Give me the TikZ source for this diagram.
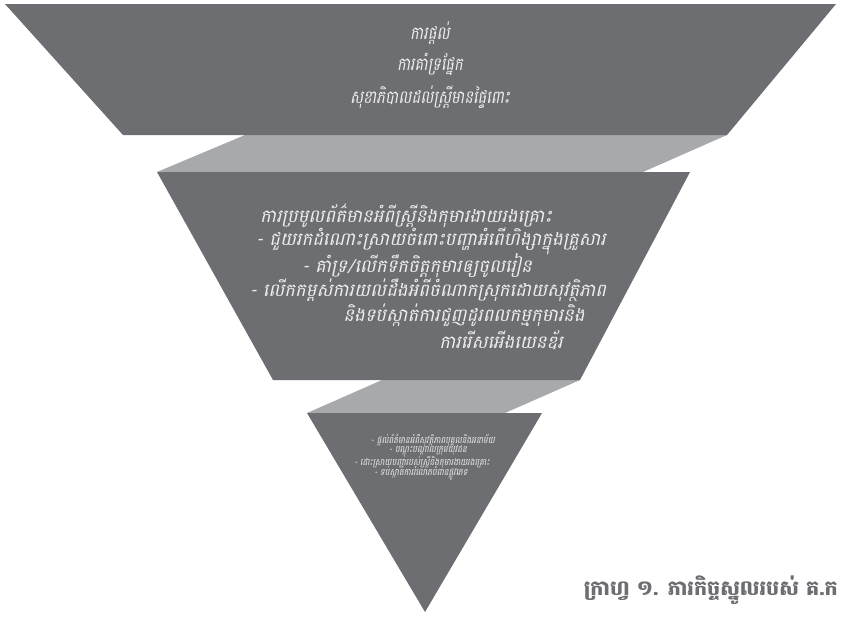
\documentclass[tikz,border=0pt]{standalone}
\usepackage{fontspec}
\newfontfamily\kh[Script=Khmer]{Battambang}
\newfontfamily\khi[Script=Khmer,FakeSlant=0.22]{Battambang}
\definecolor{darkgr}{HTML}{6D6E71}
\definecolor{lightgr}{HTML}{A7A9AC}
\definecolor{txt}{HTML}{EEEEEE}
\tikzset{
  x=0.75pt, y=-0.75pt,
  band/.style={fill=lightgr, draw=none},
  block/.style={fill=darkgr, draw=none},
  toptext/.style={text=txt, inner sep=0pt, font=\khi\fontsize{13.5}{15}\selectfont, xscale=0.82},
  midtext/.style={text=txt, inner sep=0pt, font=\khi\fontsize{13.5}{15}\selectfont},
  smalltext/.style={text=txt, inner sep=0pt, font=\khi\fontsize{7}{8}\selectfont, xscale=0.85},
  caption/.style={text=darkgr, inner sep=0pt, font=\kh\bfseries\fontsize{15.5}{17}\selectfont},
}
\begin{document}
\begin{tikzpicture}
\useasboundingbox (0,0) rectangle (841,618);
% ribbons
\fill[band] (245,135) -- (727,135) -- (643,172) -- (157,172) -- cycle;
\fill[band] (382,380) -- (580,380) -- (505,413) -- (307,413) -- cycle;
% blocks
\fill[block] (5,4) -- (836,4) -- (727,135) -- (123,135) -- cycle;
\fill[block] (157,172) -- (690,172) -- (580,380) -- (273,380) -- cycle;
\fill[block] (307,413) -- (542,413) -- (425,612) -- cycle;
% top texts
\node[toptext] (t1) at (430,33) {ការផ្ដល់};
\node[toptext] (t2) at (430,64) {ការគាំទ្រផ្នែក};
\node[toptext] (t3) at (430,97) {សុខាភិបាលដល់ស្ត្រីមានផ្ទៃពោះ};
% middle texts
\node[midtext] (m1) at (406,216) {ការប្រមូលព័ត៌មានអំពីស្ត្រីនិងកុមារងាយរងគ្រោះ};
\node[midtext] (m2) at (431,241) {- ជួយរកដំណោះស្រាយចំពោះបញ្ហាអំពើហិង្សាក្នុងគ្រួសារ};
\node[midtext] (m3) at (417,266) {- គាំទ្រ/លើកទឹកចិត្តកុមារឲ្យចូលរៀន};
\node[midtext] (m4) at (428,290) {- លើកកម្ពស់ការយល់ដឹងអំពីចំណាកស្រុកដោយសុវត្ថិភាព};
\node[midtext] (m5) at (464,315) {និងទប់ស្កាត់ការជួញដូរពលកម្មកុមារនិង};
\node[midtext] (m6) at (501,340) {ការរើសអើងយេនឌ័រ};
% small texts
\node[smalltext] (s1) at (433,440) {- ផ្ដល់ព័ត៌មានអំពីសុវត្ថិភាពបុគ្គលនិងអនាម័យ};
\node[smalltext] (s2) at (428,451) {- បណ្ដុះបណ្ដាលក្រុមយុវជន};
\node[smalltext] (s3) at (422,462) {- ដោះស្រាយបញ្ហារបស់ស្ត្រីនិងកុមារងាយរងគ្រោះ};
\node[smalltext] (s4) at (421,473) {- ទប់ស្កាត់ការរំលោភបំពានផ្លូវភេទ};
% caption
\node[caption, anchor=east] (cap) at (838,590) {ក្រាហ្វ ១. ភារកិច្ចស្នូលរបស់ គ.ក};
\end{tikzpicture}
\end{document}
